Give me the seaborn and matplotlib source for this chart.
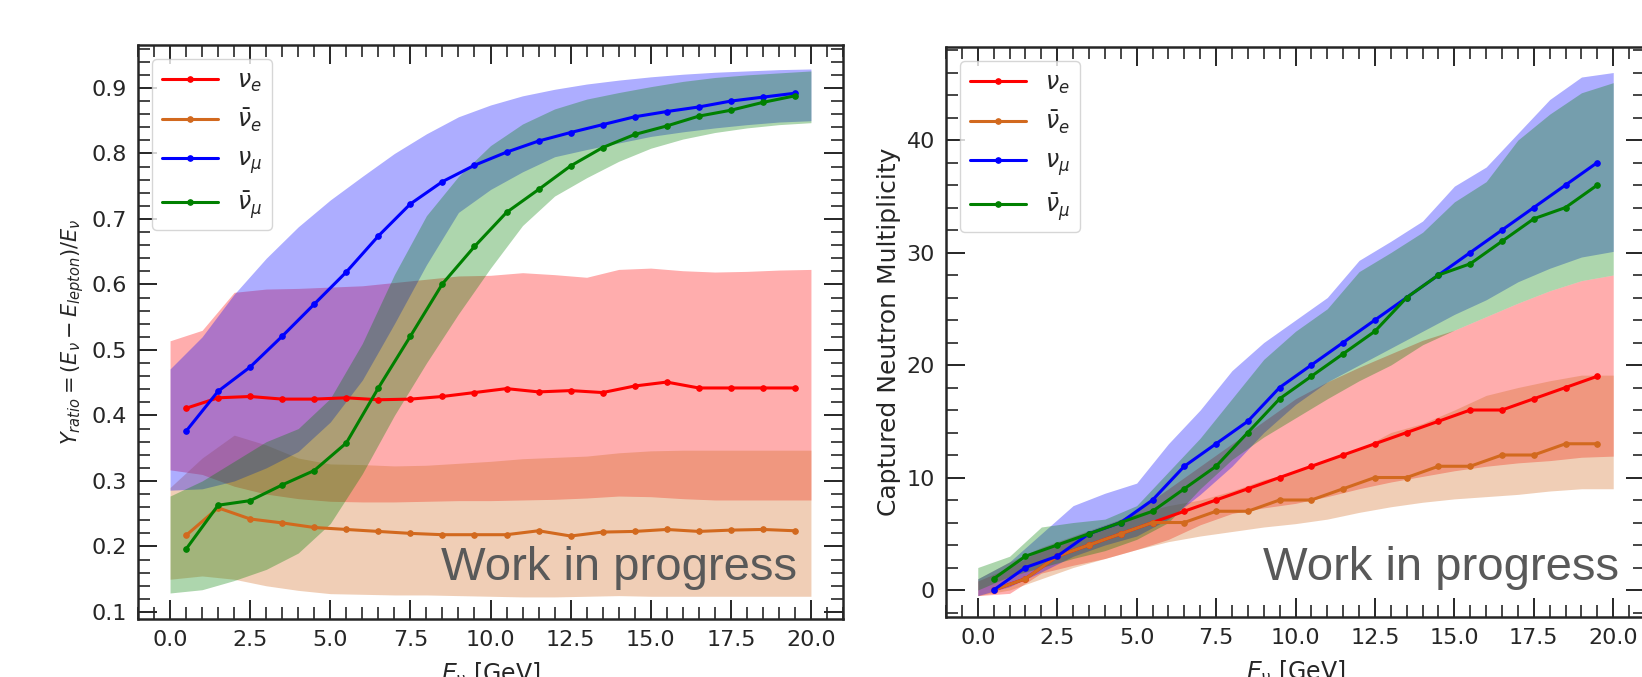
import matplotlib
matplotlib.use("Agg")
import matplotlib.pyplot as plt
import seaborn as sns
from matplotlib.ticker import MultipleLocator

# neutrino energy bins (line points) and the grid the bands are read on
E_pts = [0.5, 1.5, 2.5, 3.5, 4.5, 5.5, 6.5, 7.5, 8.5, 9.5,
         10.5, 11.5, 12.5, 13.5, 14.5, 15.5, 16.5, 17.5, 18.5, 19.5]
E_band = list(range(0, 21))

labels = [r"$\nu_e$", r"$\bar{\nu}_e$", r"$\nu_\mu$", r"$\bar{\nu}_\mu$"]
colors = ["red", "chocolate", "blue", "green"]

# ---- left panel: Y_ratio
L_nue = [0.411, 0.427, 0.429, 0.425, 0.425, 0.427, 0.424, 0.425, 0.429, 0.435,
         0.441, 0.436, 0.438, 0.435, 0.445, 0.451, 0.442, 0.442, 0.442, 0.442]
L_nuebar = [0.217, 0.259, 0.242, 0.236, 0.229, 0.226, 0.223, 0.220, 0.218, 0.218,
            0.218, 0.224, 0.216, 0.222, 0.223, 0.226, 0.223, 0.225, 0.226, 0.224]
L_numu = [0.376, 0.437, 0.474, 0.521, 0.570, 0.619, 0.674, 0.723, 0.757, 0.782,
          0.802, 0.819, 0.832, 0.844, 0.856, 0.864, 0.871, 0.880, 0.886, 0.892]
L_numubar = [0.196, 0.263, 0.270, 0.294, 0.316, 0.358, 0.442, 0.521, 0.601, 0.658,
             0.710, 0.745, 0.781, 0.809, 0.829, 0.842, 0.857, 0.866, 0.878, 0.888]

L_nue_lo = [0.317, 0.310, 0.292, 0.280, 0.273, 0.269, 0.268, 0.268, 0.269, 0.270, 0.270,
            0.271, 0.272, 0.274, 0.277, 0.276, 0.273, 0.271, 0.271, 0.271, 0.271]
L_nue_hi = [0.514, 0.530, 0.588, 0.593, 0.594, 0.596, 0.598, 0.603, 0.608, 0.613, 0.614,
            0.618, 0.615, 0.611, 0.623, 0.625, 0.621, 0.619, 0.620, 0.622, 0.623]
L_nuebar_lo = [0.150, 0.155, 0.150, 0.140, 0.133, 0.128, 0.127, 0.126, 0.126, 0.125, 0.124,
               0.123, 0.123, 0.124, 0.125, 0.124, 0.124, 0.124, 0.124, 0.124, 0.124]
L_nuebar_hi = [0.290, 0.335, 0.370, 0.355, 0.335, 0.326, 0.325, 0.323, 0.324, 0.327, 0.330,
               0.334, 0.336, 0.338, 0.343, 0.346, 0.347, 0.347, 0.347, 0.347, 0.347]
L_numu_lo = [0.286, 0.288, 0.300, 0.320, 0.345, 0.390, 0.454, 0.540, 0.630, 0.710, 0.745,
             0.772, 0.795, 0.806, 0.816, 0.826, 0.833, 0.839, 0.844, 0.848, 0.850]
L_numu_hi = [0.471, 0.520, 0.585, 0.640, 0.688, 0.729, 0.765, 0.800, 0.830, 0.856, 0.874,
             0.888, 0.898, 0.906, 0.912, 0.917, 0.921, 0.924, 0.926, 0.928, 0.929]
L_numubar_lo = [0.129, 0.134, 0.148, 0.165, 0.190, 0.235, 0.311, 0.400, 0.480, 0.555, 0.625,
                0.690, 0.735, 0.763, 0.788, 0.808, 0.822, 0.832, 0.839, 0.844, 0.847]
L_numubar_hi = [0.277, 0.300, 0.330, 0.360, 0.380, 0.426, 0.510, 0.615, 0.705, 0.765, 0.812,
                0.845, 0.868, 0.883, 0.893, 0.902, 0.910, 0.916, 0.920, 0.923, 0.926]

# ---- right panel: captured neutron multiplicity
R_nue = [0, 1, 3, 4, 5, 6, 7, 8, 9, 10, 11, 12, 13, 14, 15, 16, 16, 17, 18, 19]
R_nuebar = [0, 1, 3, 4, 5, 6, 6, 7, 7, 8, 8, 9, 10, 10, 11, 11, 12, 12, 13, 13]
R_numu = [0, 2, 3, 5, 6, 8, 11, 13, 15, 18, 20, 22, 24, 26, 28, 30, 32, 34, 36, 38]
R_numubar = [1, 3, 4, 5, 6, 7, 9, 11, 14, 17, 19, 21, 23, 26, 28, 29, 31, 33, 34, 36]

R_nue_lo = [-0.5, -0.3, 1.5, 2.2, 2.8, 3.6, 4.5, 5.8, 6.8, 7.3, 7.7,
            8.3, 9.0, 9.6, 10.1, 10.6, 11.0, 11.3, 11.5, 11.8, 11.9]
R_nue_hi = [0.8, 2.0, 3.6, 4.6, 5.6, 7.0, 9.0, 11.0, 13.0, 15.0, 17.0,
            18.5, 19.8, 21.0, 22.2, 23.1, 24.3, 25.5, 26.6, 27.5, 28.0]
R_nuebar_lo = [-0.5, 0.0, 1.0, 2.0, 2.8, 3.6, 4.3, 4.8, 5.2, 5.6, 5.9,
               6.3, 6.9, 7.4, 7.8, 8.1, 8.3, 8.5, 8.8, 9.0, 9.0]
R_nuebar_hi = [1.0, 2.5, 3.8, 4.8, 5.8, 6.8, 7.5, 8.0, 8.8, 9.8, 10.5,
               11.5, 12.5, 14.0, 14.8, 16.0, 17.3, 18.0, 18.6, 19.1, 19.1]
R_numu_lo = [-0.5, 0.3, 1.6, 3.0, 4.0, 4.8, 6.3, 8.5, 11.0, 14.0, 16.5,
             18.5, 20.0, 21.5, 23.0, 24.5, 25.8, 27.4, 28.6, 29.6, 30.1]
R_numu_hi = [1.0, 2.5, 5.0, 7.5, 8.6, 9.5, 13.0, 16.0, 19.5, 22.0, 24.0,
             26.0, 29.3, 31.0, 32.8, 35.9, 37.6, 40.6, 43.6, 45.6, 46.0]
R_numubar_lo = [0.0, 1.2, 2.0, 2.8, 3.5, 4.5, 6.0, 9.0, 11.6, 13.6, 15.3,
                17.0, 18.6, 20.0, 21.8, 23.1, 24.3, 25.5, 26.6, 27.5, 28.0]
R_numubar_hi = [2.0, 3.0, 5.6, 6.0, 6.3, 7.5, 10.5, 13.5, 17.0, 20.5, 23.0,
                25.0, 28.3, 30.0, 31.8, 34.5, 36.3, 40.0, 42.3, 44.2, 45.1]

sns.set_style("ticks")
plt.rcParams["font.family"] = ["DejaVu Sans"]
plt.rcParams["axes.linewidth"] = 1.8

fig = plt.figure(figsize=(16.42, 6.77), dpi=100)
W, H = 1642, 677
ax1 = fig.add_axes([138 / W, 58 / H, 705 / W, 574 / H])
ax2 = fig.add_axes([946 / W, 60 / H, 699 / W, 570 / H])


def draw_panel(ax, lines, bands):
    for (lo, hi), c in zip(bands, colors):
        ax.fill_between(E_band, lo, hi, color=c, alpha=0.32, lw=0)
    for y, c, lab in zip(lines, colors, labels):
        sns.lineplot(x=E_pts, y=y, ax=ax, color=c, lw=2.2, marker="o",
                     markersize=4, markeredgecolor=c, label=lab, zorder=5)
    ax.set_xlim(-1, 21)
    ax.xaxis.set_major_locator(MultipleLocator(2.5))
    ax.xaxis.set_minor_locator(MultipleLocator(0.5))
    ax.tick_params(which="both", direction="in", top=True, right=True,
                   labelsize=16, pad=8)
    ax.tick_params(which="major", length=14, width=1.4)
    ax.tick_params(which="minor", length=8.5, width=1.2)
    ax.set_xlabel(r"$E_\nu$ [GeV]", fontsize=17, labelpad=8)
    ax.legend(loc="upper left", fontsize=17, handlelength=2.4,
              labelspacing=0.55, borderaxespad=0.6)


draw_panel(ax1, [L_nue, L_nuebar, L_numu, L_numubar],
           [(L_nue_lo, L_nue_hi), (L_nuebar_lo, L_nuebar_hi),
            (L_numu_lo, L_numu_hi), (L_numubar_lo, L_numubar_hi)])
ax1.set_ylim(0.0893, 0.9656)
ax1.yaxis.set_major_locator(MultipleLocator(0.1))
ax1.yaxis.set_minor_locator(MultipleLocator(0.02))
ax1.set_ylabel(r"$Y_{ratio} = (E_\nu - E_{lepton})/E_\nu$", fontsize=15)

draw_panel(ax2, [R_nue, R_nuebar, R_numu, R_numubar],
           [(R_nue_lo, R_nue_hi), (R_nuebar_lo, R_nuebar_hi),
            (R_numu_lo, R_numu_hi), (R_numubar_lo, R_numubar_hi)])
ax2.set_ylim(-2.4, 48.27)
ax2.yaxis.set_major_locator(MultipleLocator(10))
ax2.yaxis.set_minor_locator(MultipleLocator(2))
ax2.set_ylabel("Captured Neutron Multiplicity", fontsize=18)

# overlay stamps
fig.text(441 / W, 1 - 580 / H, "Work in progress", fontsize=34, color="#595959",
         family="Liberation Sans", ha="left", va="baseline")
fig.text(1619 / W, 1 - 580 / H, "Work in progress", fontsize=34, color="#595959",
         family="Liberation Sans", ha="right", va="baseline")

fig.savefig("out.png", dpi=100)
